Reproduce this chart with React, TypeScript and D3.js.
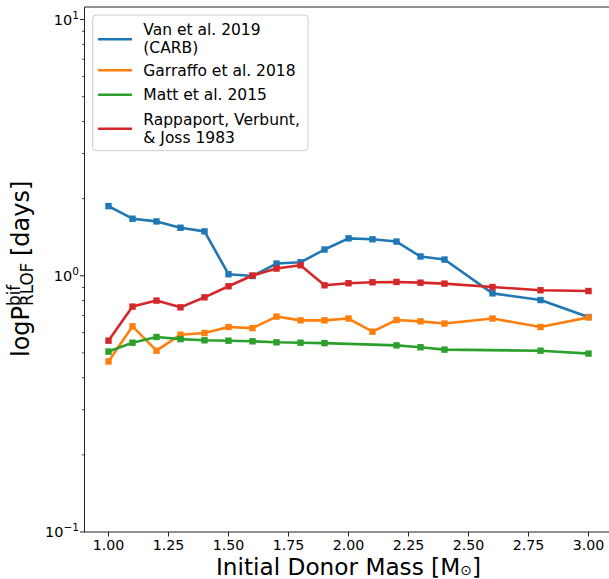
import React from 'react';
import * as d3 from 'd3';

// initial donor masses (Msun) used for each model
const massVan = [1.0, 1.1, 1.2, 1.3, 1.4, 1.5, 1.6, 1.7, 1.8, 1.9, 2.0, 2.1, 2.2, 2.3, 2.4, 2.6, 2.8, 3.0];
const massGarraffo = [1.0, 1.1, 1.2, 1.3, 1.4, 1.5, 1.6, 1.7, 1.8, 1.9, 2.0, 2.1, 2.2, 2.3, 2.4, 2.6, 2.8, 3.0];
const massMatt = [1.0, 1.1, 1.2, 1.3, 1.4, 1.5, 1.6, 1.7, 1.8, 1.9, 2.2, 2.3, 2.4, 2.8, 3.0];
const massRappaport = [1.0, 1.1, 1.2, 1.3, 1.4, 1.5, 1.6, 1.7, 1.8, 1.9, 2.0, 2.1, 2.2, 2.3, 2.4, 2.6, 2.8, 3.0];

// bifurcation period at RLOF (days)
const periodVan = [1.87, 1.67, 1.63, 1.54, 1.49, 1.014, 0.998, 1.116, 1.129, 1.266, 1.40, 1.388, 1.36, 1.189, 1.157, 0.854, 0.804, 0.69];
const periodGarraffo = [0.463, 0.635, 0.51, 0.589, 0.598, 0.631, 0.625, 0.693, 0.67, 0.67, 0.681, 0.605, 0.672, 0.664, 0.651, 0.681, 0.631, 0.688];
const periodMatt = [0.506, 0.548, 0.577, 0.566, 0.56, 0.558, 0.555, 0.55, 0.548, 0.546, 0.535, 0.526, 0.515, 0.51, 0.497];
const periodRappaport = [0.558, 0.758, 0.8, 0.753, 0.824, 0.91, 1.002, 1.067, 1.099, 0.918, 0.935, 0.943, 0.946, 0.94, 0.932, 0.904, 0.878, 0.872];

const seriesNames = ['Van et al. 2019|(CARB)', 'Garraffo et al. 2018', 'Matt et al. 2015', 'Rappaport, Verbunt,|& Joss 1983'];
const seriesColors = ['#1f77b4', '#ff7f0e', '#2ca02c', '#d62728'];

const xTicks = [1.0, 1.25, 1.5, 1.75, 2.0, 2.25, 2.5, 2.75, 3.0];
const yMajor = [0.1, 1, 10];

const width = 609;
const height = 579;
const font = 'DejaVu Sans, sans-serif';

export default function App() {
    const x = d3.scaleLinear().domain([0.9, 3.1]).range([84.5, 612.5]);
    const y = d3.scaleLog().domain([0.1, Math.pow(10, 1.049)]).range([532, 7]);

    const series = [
        { xs: massVan, ys: periodVan },
        { xs: massGarraffo, ys: periodGarraffo },
        { xs: massMatt, ys: periodMatt },
        { xs: massRappaport, ys: periodRappaport },
    ];

    const line = d3.line<[number, number]>()
        .x(d => x(d[0]))
        .y(d => y(d[1]));

    // minor ticks 2..9 per decade
    const yMinor: number[] = [];
    [0.1, 1].forEach(dec => {
        for (let k = 2; k <= 9; k++) yMinor.push(dec * k);
    });

    const left = 84.5, bottom = 532, top = 7, right = 612.5;

    const legendRows = [
        { lineY: 39.3, texts: [35.3, 53] },
        { lineY: 70.3, texts: [76.3] },
        { lineY: 94.7, texts: [100.3] },
        { lineY: 128.7, texts: [125.3, 143] },
    ];

    return (
        <svg width={width} height={height} style={{ position: 'absolute', left: 0, top: 0, background: '#fff' }}
            fontFamily={font}>
            <rect x={0} y={0} width={width} height={height} fill="#fff" />

            {/* data lines */}
            {series.map((s, i) => {
                const pts = s.xs.map((v, j) => [v, s.ys[j]] as [number, number]);
                return (
                    <g key={i}>
                        <path d={line(pts) || ''} fill="none" stroke={seriesColors[i]} strokeWidth={2.6}
                            strokeLinejoin="round" strokeLinecap="square" />
                        {pts.map((p, j) => (
                            <rect key={j} x={x(p[0]) - 3.2} y={y(p[1]) - 3.2} width={6.4} height={6.4}
                                fill={seriesColors[i]} />
                        ))}
                    </g>
                );
            })}

            {/* spines */}
            <line x1={left} x2={left} y1={top} y2={bottom} stroke="#222" strokeWidth={1} />
            <line x1={left} x2={right} y1={bottom} y2={bottom} stroke="#222" strokeWidth={1} />
            <line x1={left} x2={right} y1={top} y2={top} stroke="#222" strokeWidth={1} />
            <line x1={right} x2={right} y1={top} y2={bottom} stroke="#222" strokeWidth={1} />

            {/* x ticks */}
            {xTicks.map(t => (
                <g key={t}>
                    <line x1={x(t)} x2={x(t)} y1={bottom} y2={bottom + 4.5} stroke="#222" strokeWidth={1} />
                    <text x={x(t)} y={549.5} textAnchor="middle" fontSize={14.2} fill="#000">{t.toFixed(2)}</text>
                </g>
            ))}

            {/* y ticks */}
            {yMajor.map((t, i) => (
                <g key={t}>
                    <line x1={left - 4.5} x2={left} y1={y(t)} y2={y(t)} stroke="#222" strokeWidth={1} />
                    <text x={79} y={y(t) + 5} textAnchor="end" fontSize={14.5} fill="#000">
                        10<tspan dy={-6} fontSize={10.5}>{i === 0 ? '\u22121' : i === 1 ? '0' : '1'}</tspan>
                    </text>
                </g>
            ))}
            {yMinor.map(t => (
                <line key={t} x1={left - 2.6} x2={left} y1={y(t)} y2={y(t)} stroke="#222" strokeWidth={0.8} />
            ))}

            {/* axis labels */}
            <text x={(left + right) / 2} y={574.5} textAnchor="middle" fontSize={23.2} fill="#000">
                Initial Donor Mass [M<tspan dy={0.5} fontSize={14}>{'\u2299'}</tspan><tspan dy={-0.5}>]</tspan>
            </text>
            <g transform="translate(28.5,270) rotate(-90)" fontSize={24} fill="#000">
                <text x={-87} y={0}>logP</text>
                <text x={-36} y={-9} fontSize={16.8}>bif</text>
                <text x={-36} y={4.5} fontSize={16.8}>RLOF</text>
                <text x={14} y={0}>[days]</text>
            </g>

            {/* legend */}
            <rect x={92.7} y={15} width={215.3} height={135.7} rx={3.5} fill="#fff" fillOpacity={0.8}
                stroke="#cccccc" strokeWidth={1} />
            {legendRows.map((r, i) => (
                <g key={i}>
                    <line x1={98} x2={132} y1={r.lineY} y2={r.lineY} stroke={seriesColors[i]} strokeWidth={2.6} />
                    {seriesNames[i].split('|').map((txt, k) => (
                        <text key={k} x={143.3} y={r.texts[k]} fontSize={15.5} fill="#000">{txt}</text>
                    ))}
                </g>
            ))}
        </svg>
    );
}
